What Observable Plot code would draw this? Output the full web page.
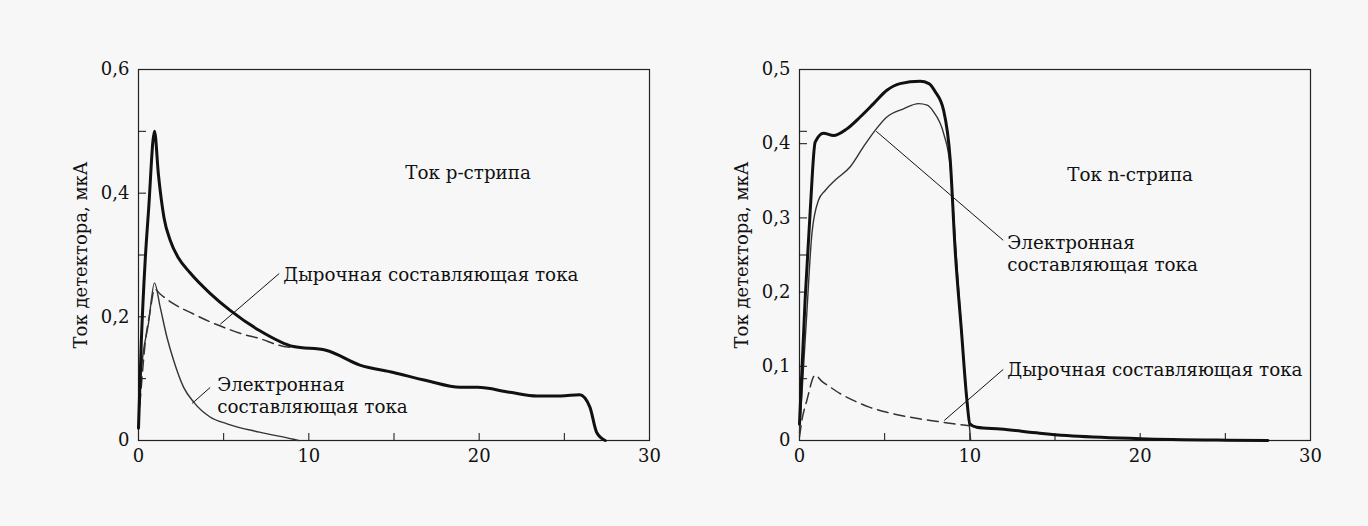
<!DOCTYPE html>
<html>
<head>
<meta charset="utf-8">
<script src="https://cdn.jsdelivr.net/npm/d3@7"></script>
<script src="https://cdn.jsdelivr.net/npm/@observablehq/plot@0.6"></script>
<style>
  html, body { margin: 0; padding: 0; background: #f7f7f7; }
  #wrap { display: flex; width: 1368px; height: 526px; }
</style>
</head>
<body>
<div id="wrap"></div>
<script>
// ---------- Data ----------
// Left panel: p-strip current
const pTotalX = [0, 0.16, 0.39, 0.59, 0.94, 1.17, 1.5, 1.86, 2.35, 3.0, 4.2, 5.4, 7.1, 9.1, 11.0, 13.0, 14.97, 16.9, 18.9, 19.9, 21.8, 23.4, 24.8, 25.9, 26.5, 26.9, 27.4];
const pTotalY = [0.02, 0.156, 0.29, 0.372, 0.5, 0.43, 0.36, 0.324, 0.295, 0.272, 0.238, 0.210, 0.178, 0.152, 0.146, 0.122, 0.110, 0.097, 0.086, 0.086, 0.078, 0.072, 0.072, 0.074, 0.054, 0.013, 0];
const pHoleX = [0, 0.1, 0.39, 0.69, 0.94, 1.27, 2.0, 3.2, 4.2, 5.2, 6.0, 7.1, 8.4, 9.2];
const pHoleY = [0.03, 0.065, 0.157, 0.21, 0.245, 0.237, 0.222, 0.205, 0.192, 0.181, 0.173, 0.165, 0.153, 0.150];
const pElecX = [0, 0.16, 0.59, 0.94, 1.27, 1.67, 2.07, 2.65, 3.24, 4.2, 5.2, 7.1, 9.1, 9.4];
const pElecY = [0.02, 0.11, 0.19, 0.255, 0.216, 0.167, 0.129, 0.086, 0.062, 0.038, 0.027, 0.0135, 0.002, 0];

// Right panel: n-strip current
const nTotalX = [0, 0.33, 0.63, 0.92, 1.41, 2.0, 2.78, 3.56, 4.35, 5.13, 5.9, 7.08, 7.6, 7.97, 8.46, 8.85, 9.14, 9.5, 9.83, 10.0, 10.4, 11.8, 14.1, 15.7, 20, 25.1, 27.5];
const nTotalY = [0.022, 0.19, 0.31, 0.402, 0.414, 0.411, 0.420, 0.436, 0.454, 0.472, 0.481, 0.484, 0.481, 0.470, 0.445, 0.378, 0.256, 0.15, 0.054, 0.0225, 0.018, 0.0155, 0.0099, 0.0067, 0.0025, 0.0005, 0];
const nElecX = [0, 0.4, 0.73, 1.12, 1.51, 2.1, 2.98, 3.76, 4.44, 5.13, 6.1, 6.99, 7.5, 7.87, 8.46, 8.85, 9.2, 9.6, 10.05];
const nElecY = [0.01, 0.16, 0.279, 0.324, 0.337, 0.351, 0.369, 0.396, 0.418, 0.436, 0.447, 0.454, 0.452, 0.443, 0.414, 0.369, 0.25, 0.12, 0];
const nHoleX = [0, 0.14, 0.43, 0.92, 1.3, 1.8, 2.4, 3.17, 4.1, 5.13, 6.1, 7.1, 8.0, 9.04, 10.0];
const nHoleY = [0.005, 0.027, 0.054, 0.088, 0.08, 0.072, 0.063, 0.054, 0.045, 0.038, 0.033, 0.029, 0.026, 0.0225, 0.020];

// Axis ticks
const xLabelTicks = [0, 10, 20, 30];
const xMinorTicks = [5, 10, 15, 20, 25];
const pYLabelTicks = [0, 0.2, 0.4, 0.6];
const pYMinorTicks = [0.1, 0.2, 0.3, 0.4, 0.5];
const nYLabelTicks = [0, 0.1, 0.2, 0.3, 0.4, 0.5];
const nYMinorTicks = [0.0833, 0.1, 0.2, 0.25, 0.3, 0.4, 0.4167];

// Texts
const yAxisLabel = "Ток детектора, мкА";
const pTitle = "Ток р-стрипа";
const nTitle = "Ток n-стрипа";
const holeLabel = "Дырочная составляющая тока";
const elecLabel = "Электронная\nсоставляющая тока";

// Annotations (data coordinates)
const pNotes = [
  {x: 15.66, y: 0.434, text: pTitle},
  {x: 8.5, y: 0.270, text: holeLabel},
  {x: 4.62, y: 0.0737, text: elecLabel}
];
const pLeaders = [
  {x1: 8.26, y1: 0.270, x2: 4.80, y2: 0.188},
  {x1: 4.21, y1: 0.0858, x2: 3.15, y2: 0.060}
];
const nNotes = [
  {x: 15.72, y: 0.359, text: nTitle},
  {x: 12.2, y: 0.253, text: elecLabel},
  {x: 12.2, y: 0.097, text: holeLabel}
];
const nLeaders = [
  {x1: 11.96, y1: 0.2698, x2: 4.50, y2: 0.4168},
  {x1: 11.96, y1: 0.0958, x2: 8.50, y2: 0.027}
];

const zip = (xs, ys) => xs.map((x, i) => ({x, y: ys[i]}));
const comma = d => d === 0 ? "0" : String(d).replace(".", ",");

function panel({total, hole, elec, yMax, yLabelTicks, yMinorTicks, notes, leaders, marginLeft, marginRight}) {
  return Plot.plot({
    width: 684,
    height: 526,
    marginLeft, marginRight,
    marginTop: 69,
    marginBottom: 86,
    style: {fontFamily: "'DejaVu Serif', serif", fontSize: "18px", background: "transparent", color: "#111", overflow: "visible"},
    x: {domain: [0, 30]},
    y: {domain: [0, yMax]},
    marks: [
      Plot.frame({stroke: "#222", strokeWidth: 1.2}),
      Plot.axisX({ticks: xLabelTicks, tickSize: 0, tickPadding: 9, label: null, fontSize: 18}),
      Plot.axisX({ticks: xMinorTicks, tickSize: -7, tickFormat: () => "", label: null}),
      Plot.axisY({ticks: yLabelTicks, tickSize: 0, tickPadding: 9, tickFormat: comma, fontSize: 18,
        label: yAxisLabel, labelAnchor: "center", labelArrow: "none", labelOffset: 64}),
      Plot.axisY({ticks: yMinorTicks, tickSize: -8, tickFormat: () => "", label: null}),
      Plot.line(elec, {x: "x", y: "y", stroke: "#333", strokeWidth: 1.4, curve: "monotone-x"}),
      Plot.line(hole, {x: "x", y: "y", stroke: "#333", strokeWidth: 1.5, strokeDasharray: "11,6", curve: "monotone-x"}),
      Plot.line(total, {x: "x", y: "y", stroke: "#111", strokeWidth: 3, curve: "monotone-x"}),
      Plot.link(leaders, {x1: "x1", y1: "y1", x2: "x2", y2: "y2", stroke: "#111", strokeWidth: 1}),
      Plot.text(notes, {x: "x", y: "y", text: "text", textAnchor: "start", lineAnchor: "middle", fontSize: 18.3, lineHeight: 1.22, fill: "#111"})
    ]
  });
}

const wrap = document.getElementById("wrap");
wrap.append(panel({
  total: zip(pTotalX, pTotalY), hole: zip(pHoleX, pHoleY), elec: zip(pElecX, pElecY),
  yMax: 0.6, yLabelTicks: pYLabelTicks, yMinorTicks: pYMinorTicks,
  notes: pNotes, leaders: pLeaders, marginLeft: 138, marginRight: 35
}));
wrap.append(panel({
  total: zip(nTotalX, nTotalY), hole: zip(nHoleX, nHoleY), elec: zip(nElecX, nElecY),
  yMax: 0.5, yLabelTicks: nYLabelTicks, yMinorTicks: nYMinorTicks,
  notes: nNotes, leaders: nLeaders, marginLeft: 115, marginRight: 58
}));
</script>
</body>
</html>
